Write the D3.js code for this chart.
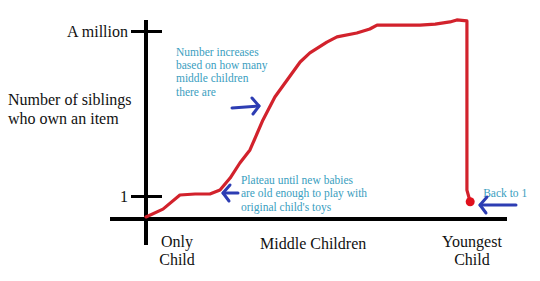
<!DOCTYPE html>
<html>
<head>
<meta charset="utf-8">
<script src="https://cdn.jsdelivr.net/npm/d3@7"></script>
<style>
  body { margin: 0; background: #fff; }
  text, tspan { font-family: "Liberation Serif", "Times New Roman", serif; }
</style>
</head>
<body>
<div id="chart"></div>
<script>
// hand-drawn curve, x in "position along family" units (0-100), y in number of siblings
var curveX = [0, 4.7, 9.4, 13.6, 17.7, 20.5, 23.3, 26.0, 28.8, 32.4, 35.7, 39.1, 42.7, 45.4, 50.1, 52.9, 58.4, 62.0, 64.0, 75.9, 80.1, 84.2, 86.1, 88.9, 88.9, 89.8];
var curveY = [0.09, 0.43, 6000, 12000, 12000, 36000, 109000, 200000, 279000, 461000, 600000, 703000, 812000, 867000, 933000, 964000, 988000, 1012000, 1036000, 1036000, 1042000, 1055000, 1067000, 1061000, 36000, 0.75];

var yTickValues = [1, 1000000];
var yTickLabels = ["1", "A million"];

var categories = [["Only", "Child"], ["Middle Children"], ["Youngest", "Child"]];
var categoryX = [8.6, 46.3, 90.3];

var notes = [
  { x: 8.3, y: 850000, lines: ["Number increases", "based on how many", "middle children", "there are"] },
  { x: 26.3, y: 72000, lines: ["Plateau until new babies", "are old enough to play with", "original child's toys"] },
  { x: 93.4, y: 0.95, lines: ["Back to 1"] }
];

var svgWidth = 540;
var svgHeight = 281;

var svg = d3.select("#chart")
  .append("svg")
  .attr("width", svgWidth)
  .attr("height", svgHeight);

// scales
var xScale = d3.scaleLinear()
  .domain([0, 100])
  .range([146, 507]);

// piecewise: 0..1 gets the bottom stretch, 1..a million the rest
var yScale = d3.scaleLinear()
  .domain([0, 1, 1000000])
  .range([219, 196, 31]);

// axis lines (drawn past the origin like the sketch)
svg.append("line")
  .attr("x1", xScale(0)).attr("x2", xScale(0))
  .attr("y1", 20).attr("y2", 245)
  .attr("stroke", "#000").attr("stroke-width", 4);

svg.append("line")
  .attr("x1", 110).attr("x2", xScale(100))
  .attr("y1", yScale(0)).attr("y2", yScale(0))
  .attr("stroke", "#000").attr("stroke-width", 4);

// y ticks
var yAxis = d3.axisLeft(yScale)
  .tickValues(yTickValues)
  .tickFormat((d, i) => yTickLabels[i])
  .tickSize(15)
  .tickPadding(3);

var yAxisG = svg.append("g")
  .attr("transform", `translate(${xScale(0)}, 0)`)
  .call(yAxis);

yAxisG.select(".domain").remove();
yAxisG.selectAll(".tick line")
  .attr("x1", 16)
  .attr("stroke", "#000")
  .attr("stroke-width", 3);
yAxisG.selectAll(".tick text")
  .attr("font-size", 16)
  .attr("fill", "#111")
  .style("font-family", "'Liberation Serif', serif");

// y title
var yTitle = svg.append("text")
  .attr("x", 8)
  .attr("y", 105)
  .attr("font-size", 16)
  .attr("fill", "#111");
yTitle.append("tspan").attr("x", 8).text("Number of siblings");
yTitle.append("tspan").attr("x", 8).attr("dy", 19).text("who own an item");

// category labels
categories.forEach(function(lines, i) {
  var t = svg.append("text")
    .attr("x", xScale(categoryX[i]))
    .attr("y", i === 1 ? 249 : 247)
    .attr("text-anchor", "middle")
    .attr("font-size", 16)
    .attr("fill", "#111");
  lines.forEach(function(l, j) {
    t.append("tspan")
      .attr("x", xScale(categoryX[i]))
      .attr("dy", j === 0 ? 0 : 18)
      .text(l);
  });
});

// the red line
var points = curveX.map((x, i) => [x, curveY[i]]);

var line = d3.line()
  .x(d => xScale(d[0]))
  .y(d => yScale(d[1]));

svg.append("path")
  .datum(points)
  .attr("d", line)
  .attr("fill", "none")
  .attr("stroke", "#d2222c")
  .attr("stroke-width", 3.2)
  .attr("stroke-linejoin", "round")
  .attr("stroke-linecap", "round");

var last = points[points.length - 1];
svg.append("circle")
  .attr("cx", xScale(last[0]))
  .attr("cy", yScale(last[1]))
  .attr("r", 4.5)
  .attr("fill", "#e0101c");

// annotations
notes.forEach(function(n) {
  var t = svg.append("text")
    .attr("x", xScale(n.x))
    .attr("y", yScale(n.y))
    .attr("font-size", 11.5)
    .attr("fill", "#3a9ec0")
    .style("font-family", "'Liberation Serif', serif");
  n.lines.forEach(function(l, j) {
    t.append("tspan")
      .attr("x", xScale(n.x))
      .attr("dy", j === 0 ? 0 : 13.3)
      .text(l);
  });
});

// blue arrows
var arrowColor = "#2d3db3";
function arrow(x1, y1, x2, y2) {
  var dir = x2 > x1 ? 1 : -1;
  var g = svg.append("g")
    .attr("fill", "none")
    .attr("stroke", arrowColor)
    .attr("stroke-width", 3)
    .attr("stroke-linecap", "round")
    .attr("stroke-linejoin", "round");
  g.append("path").attr("d", d3.line()([[x1, y1], [x2, y2]]));
  g.append("path").attr("d", d3.line()([[x2 - dir * 7, y2 - 8], [x2, y2], [x2 - dir * 6, y2 + 8]]));
}

arrow(232, 108, 259, 106);
arrow(238, 193, 223, 193);
arrow(516, 205, 480, 205);
</script>
</body>
</html>
